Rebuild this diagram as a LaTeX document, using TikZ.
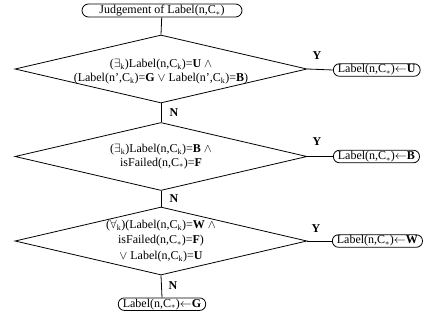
\documentclass[tikz,border=0pt]{standalone}
\usepackage{fontspec}
\setmainfont{Liberation Serif}
\usetikzlibrary{shapes.geometric}
\newcommand\myCk{C\textsubscript{k}}
\newcommand\myCs{C\textsubscript{$\ast$}}
\newcommand\myB[1]{\textbf{#1}}
\begin{document}
\begin{tikzpicture}[x=1pt,y=-1pt,
  every node/.style={font=\fontsize{12}{13.5}\selectfont},
  ln/.style={line width=0.8pt},
  dia/.style={draw,ln,diamond,minimum width=292pt,minimum height=68pt,inner sep=0pt},
  term/.style={draw,ln,rounded corners=6pt,inner xsep=4.5pt,inner ysep=0pt,minimum height=12.5pt},
  yn/.style={font=\fontsize{12}{13.5}\selectfont\bfseries,inner sep=0pt}]
\useasboundingbox (0,0) rectangle (426,322);
\node[draw,ln,rounded corners=6.5pt,minimum width=160pt,minimum height=13pt,inner sep=0pt] (start) at (162,10.5) {Judgement of Label(n,\myCs)};
\node[dia,label={[align=center,inner sep=0pt,yshift=-2.5pt,font=\fontsize{12}{14}\selectfont]center:($\exists$\textsubscript{k})Label(n,\myCk)=\myB{U} $\wedge$\\(Label(n',\myCk)=\myB{G} $\vee$ Label(n',\myCk)=\myB{B})}] (d1) at (161,69) {};
\node[dia,label={[align=center,inner sep=0pt]center:($\exists$\textsubscript{k})Label(n,\myCk)=\myB{B} $\wedge$\\isFailed(n,\myCs)=\myB{F}}] (d2) at (161,156.5) {};
\node[dia,label={[align=center,inner sep=0pt,font=\fontsize{12}{15.5}\selectfont]center:($\forall$\textsubscript{k})(Label(n,\myCk)=\myB{W} $\wedge$\\isFailed(n,\myCs)=\myB{F})\\$\vee$ Label(n,\myCk)=\myB{U}}] (d3) at (161,241) {};
\node[term,anchor=west] (tu) at (333,70) {Label(n,\myCs)$\leftarrow$\myB{U}};
\node[term,anchor=west] (tb) at (333,156.5) {Label(n,\myCs)$\leftarrow$\myB{B}};
\node[term,anchor=west] (tw) at (332,241) {Label(n,\myCs)$\leftarrow$\myB{W}};
\node[term,anchor=north] (tg) at (162,297.5) {Label(n,\myCs)$\leftarrow$\myB{G}};
\draw[ln] (start) -- (d1.north);
\draw[ln] (d1.south) -- (d2.north);
\draw[ln] (d2.south) -- (d3.north);
\draw[ln] (d3.south) -- (tg.north);
\draw[ln] (d1.east) -- (tu.west);
\draw[ln] (d2.east) -- (tb.west);
\draw[ln] (d3.east) -- (tw.west);
\node[yn] (y1) at (317,56) {Y};
\node[yn] (y2) at (317,142) {Y};
\node[yn] (y3) at (316,229) {Y};
\node[yn] (n1) at (174,113) {N};
\node[yn] (n2) at (174,199) {N};
\node[yn] (n3) at (173,286) {N};
\end{tikzpicture}
\end{document}
